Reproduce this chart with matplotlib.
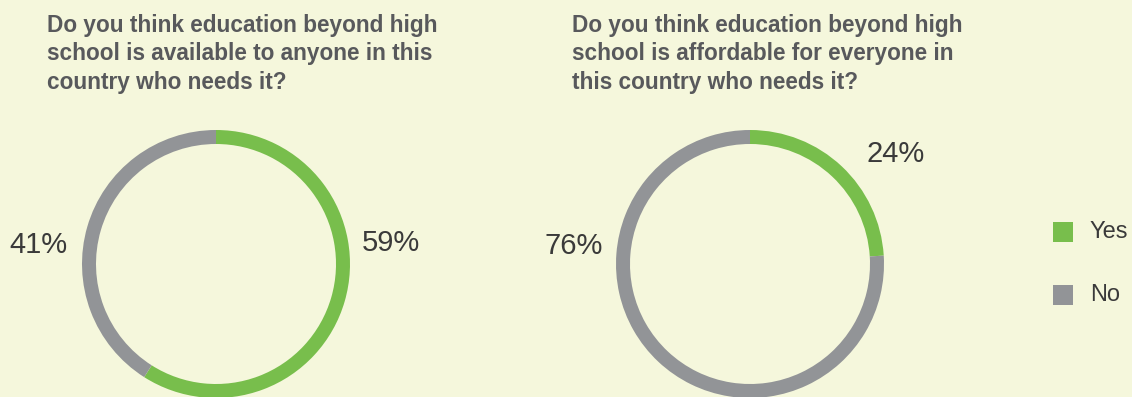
import matplotlib.pyplot as plt
from matplotlib.patches import Rectangle

# data
questions = ["Do you think education beyond high\nschool is available to anyone in this\ncountry who needs it?",
             "Do you think education beyond high\nschool is affordable for everyone in\nthis country who needs it?"]
labels = ["Yes", "No"]
available = [59, 41]
affordable = [24, 76]

bg = "#F5F7DC"
green = "#78BE4C"
grey = "#929497"
colors = [green, grey]

W, H = 1132, 397
fig = plt.figure(figsize=(W / 100, H / 100), dpi=100, facecolor=bg)
ax = fig.add_axes([0, 0, 1, 1])
ax.set_facecolor(bg)

centers = [(216, H - 264), (750, H - 264)]
R = 134
for vals, c in zip([available, affordable], centers):
    ax.pie(vals, colors=colors, startangle=90, counterclock=False,
           center=c, radius=R, frame=True,
           wedgeprops=dict(width=14, linewidth=0))
ax.set_xlim(0, W)
ax.set_ylim(0, H)
ax.set_aspect("equal")
ax.axis("off")

# titles
title_x = [47, 572]
for q, x in zip(questions, title_x):
    ax.text(x, H - 14, q, ha="left", va="top", fontsize=16.3, fontweight="bold",
            color="#58595C", family="Liberation Sans", linespacing=1.3)

# percentage labels
lbl = dict(fontsize=21, color="#3A3A3A", family="Liberation Sans", va="center")
ax.text(362, H - 243, f"{available[0]}%", ha="left", **lbl)
ax.text(68, H - 245, f"{available[1]}%", ha="right", **lbl)
ax.text(866, H - 154, f"{affordable[0]}%", ha="left", **lbl)
ax.text(603, H - 246, f"{affordable[1]}%", ha="right", **lbl)

# legend
for i, (lab, col) in enumerate(zip(labels, colors)):
    y = H - 232 - i * 63
    ax.add_patch(Rectangle((1053, y - 10), 20, 20, color=col, lw=0))
    ax.text(1090, y, lab, fontsize=17, color="#3A3A3A", family="Liberation Sans", va="center", ha="left")

fig.savefig("out.png", dpi=100, facecolor=bg)
